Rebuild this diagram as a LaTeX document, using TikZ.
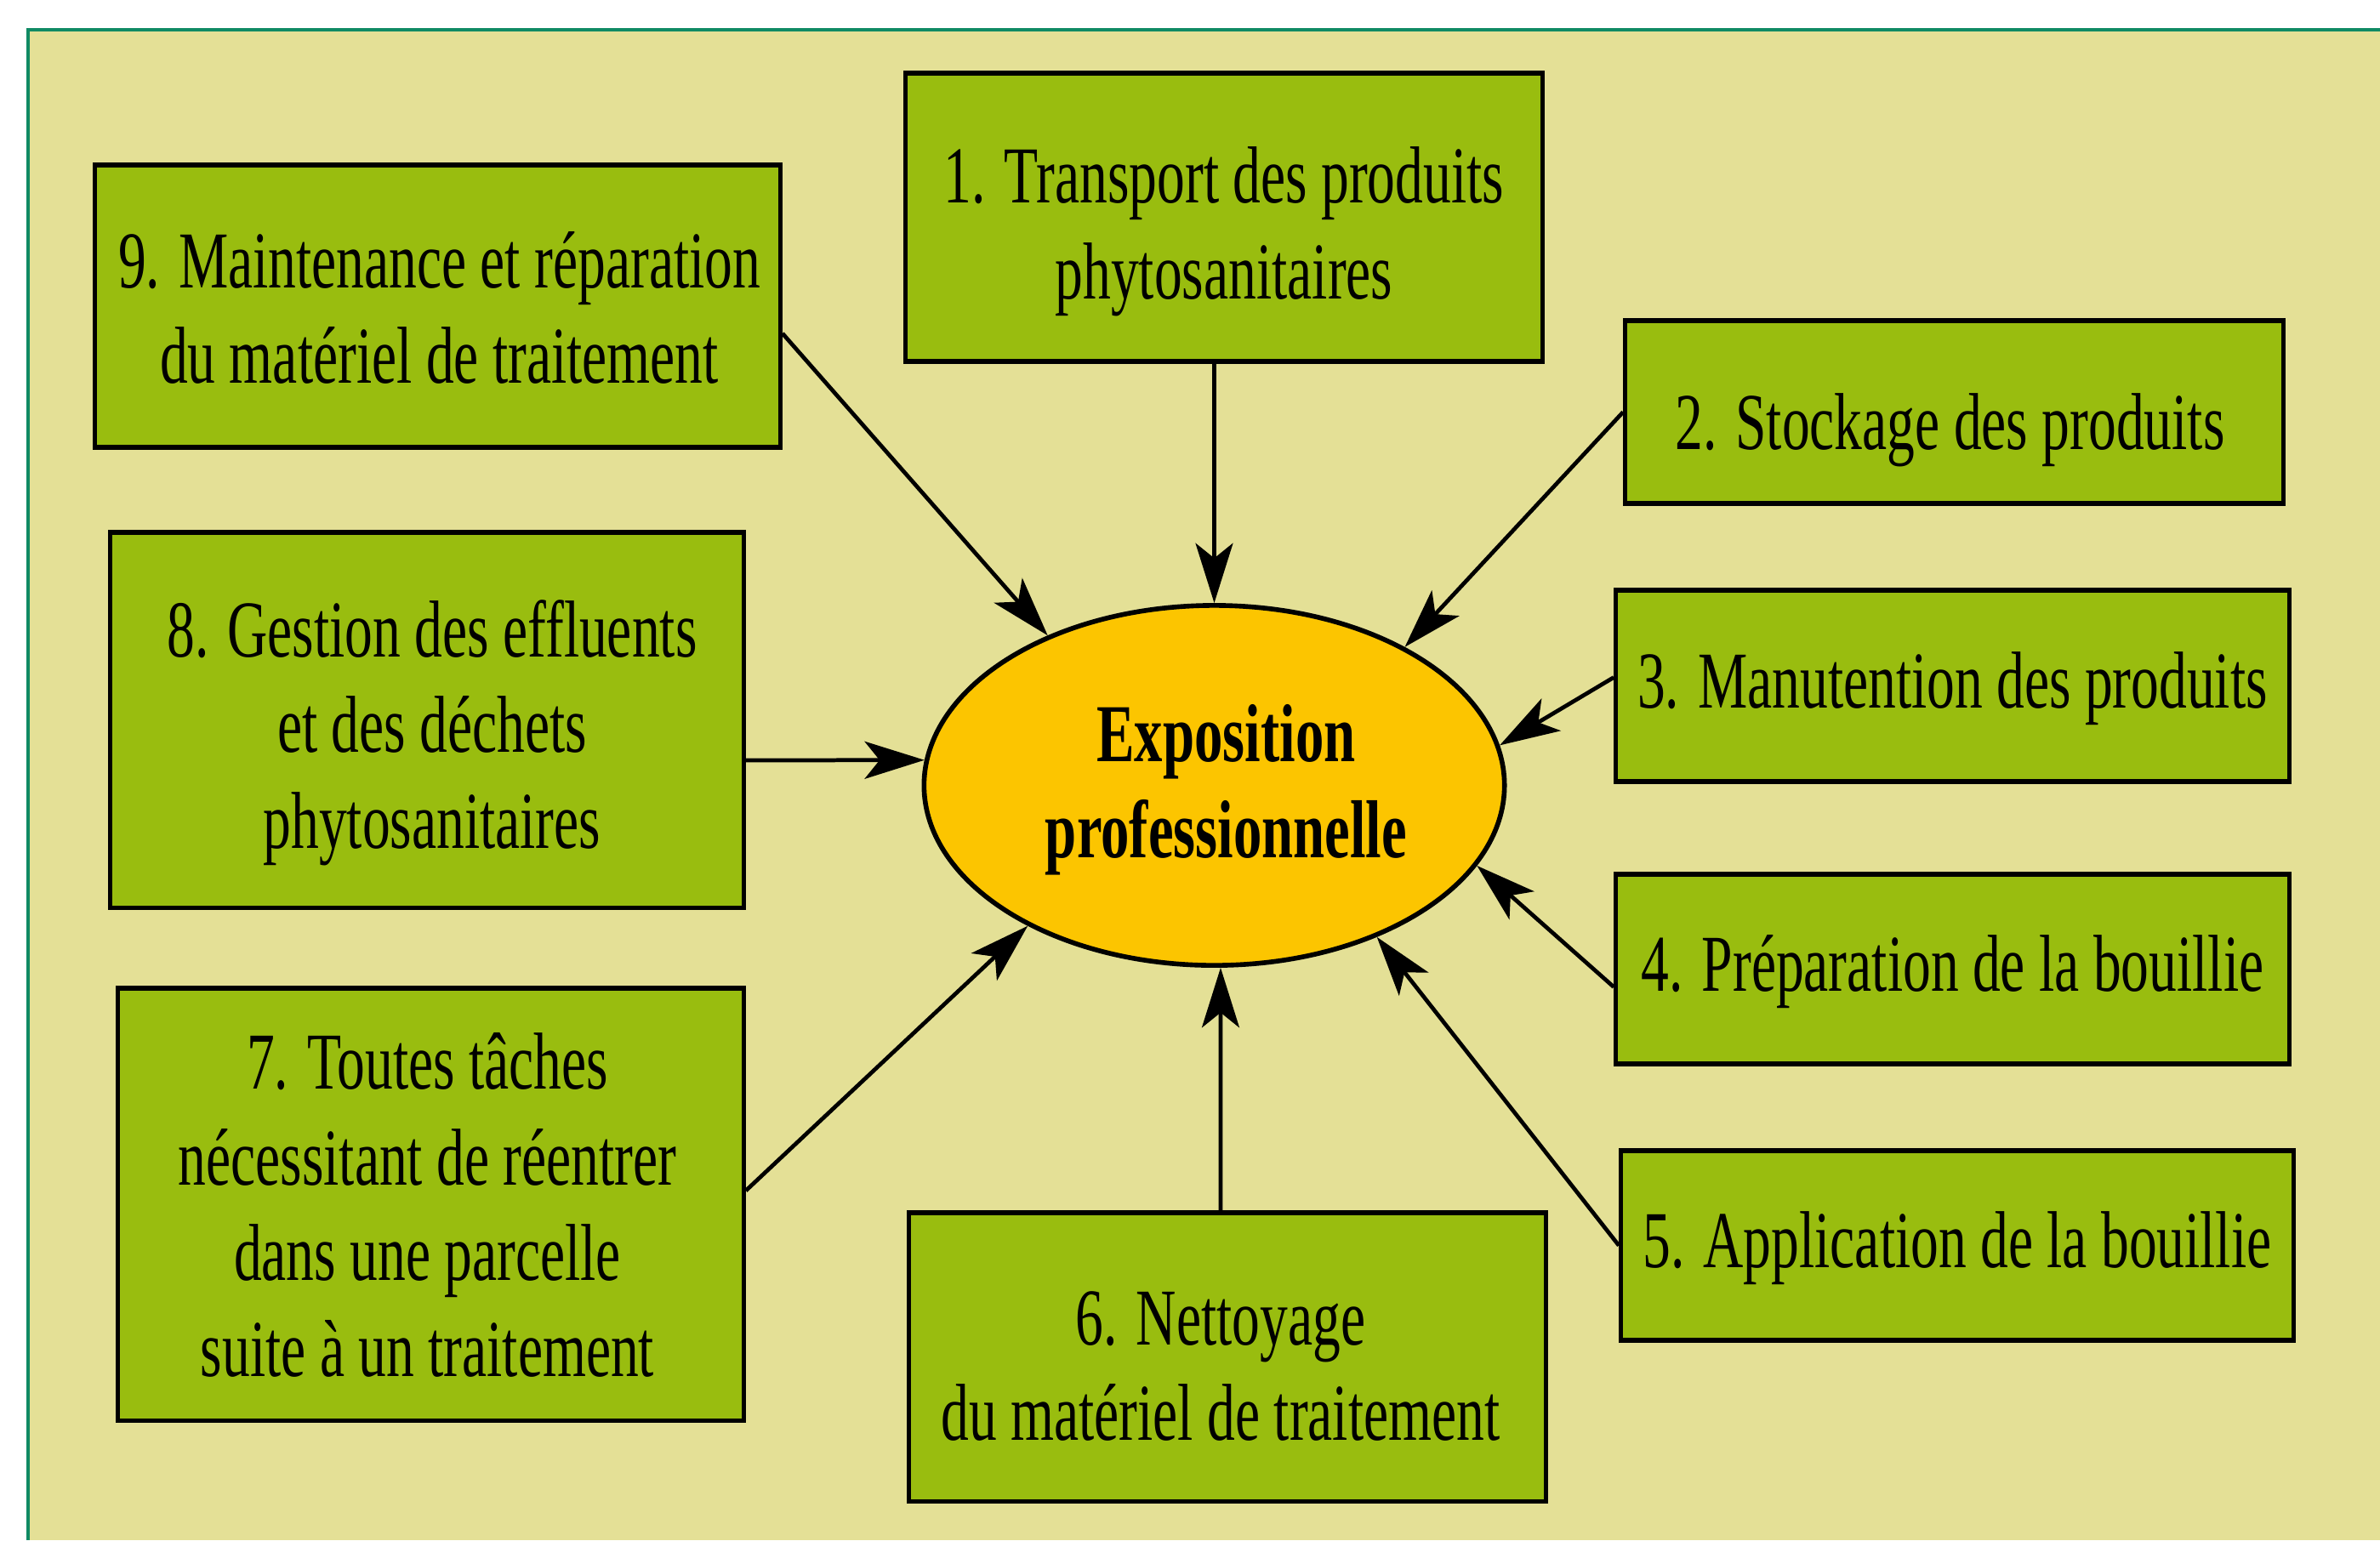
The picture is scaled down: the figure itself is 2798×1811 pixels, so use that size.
\documentclass[tikz,border=0pt]{standalone}
\usepackage{fontspec}
\setmainfont{Liberation Serif}[FakeStretch=0.69]
\usetikzlibrary{arrows.meta,shapes.geometric,calc}
\definecolor{bgyellow}{RGB}{228,224,150}
\definecolor{boxgreen}{RGB}{153,189,15}
\definecolor{ellorange}{RGB}{252,197,0}
\definecolor{frameteal}{RGB}{16,138,100}
\begin{document}
\begin{tikzpicture}[x=0.01cm,y=-0.01cm,
  box/.style={draw=black, line width=1.5pt, fill=boxgreen, rectangle, inner sep=0pt},
  boxtext/.style={inner sep=0pt, align=center, font=\fontsize{27}{32}\selectfont},
  centre/.style={draw=black, line width=1.6pt, fill=ellorange, ellipse, inner sep=0pt},
  centretext/.style={inner sep=0pt, align=center, font=\fontsize{27.5}{32}\selectfont\bfseries},
  arr/.style={draw=black, line width=1.35pt, -{Stealth[length=20pt,width=12.5pt,inset=5pt]}},
]
\useasboundingbox (0,0) rectangle (2798,1811);
\fill[white] (0,0) rectangle (2798,1811);
\fill[bgyellow] (33,35) rectangle (2798,1811);
\draw[frameteal, line width=0.9pt] (33,1811) -- (33,35) -- (2798,35);

\node[centre, minimum width=6.82cm, minimum height=4.23cm] (ell) at (1427.5,923.5) {};
\node[centretext] at ($(ell)+(14,5)$) {Exposition\\professionnelle};

\node[box, minimum width=7.48cm, minimum height=3.39cm] (b1) at (1439,255.5) {};
\node[boxtext] at ($(b1)+(0,17)$) {1. Transport des produits\\phytosanitaires};
\node[box, minimum width=7.73cm, minimum height=2.15cm] (b2) at (2297.5,484.5) {};
\node[boxtext] at ($(b2)+(-5,21)$) {2. Stockage des produits};
\node[box, minimum width=7.91cm, minimum height=2.25cm] (b3) at (2295.5,806.5) {};
\node[boxtext] at ($(b3)+(0,3)$) {3. Manutention des produits};
\node[box, minimum width=7.91cm, minimum height=2.23cm] (b4) at (2295.5,1139.5) {};
\node[boxtext] at ($(b4)+(0,3)$) {4. Préparation de la bouillie};
\node[box, minimum width=7.90cm, minimum height=2.23cm] (b5) at (2301,1464.5) {};
\node[boxtext] at ($(b5)+(0,3)$) {5. Application de la bouillie};
\node[box, minimum width=7.48cm, minimum height=3.39cm] (b6) at (1443,1595.5) {};
\node[boxtext] at ($(b6)+(-8,11)$) {6. Nettoyage\\du matériel de traitement};
\node[box, minimum width=7.35cm, minimum height=5.08cm] (b7) at (506.5,1416) {};
\node[boxtext] at ($(b7)+(-4,1)$) {7. Toutes tâches\\nécessitant de réentrer\\dans une parcelle\\suite à un traitement};
\node[box, minimum width=7.44cm, minimum height=4.41cm] (b8) at (502,846.5) {};
\node[boxtext] at ($(b8)+(6,15)$) {8. Gestion des effluents\\et des déchets\\phytosanitaires};
\node[box, minimum width=8.05cm, minimum height=3.32cm] (b9) at (514.5,360) {};
\node[boxtext] at ($(b9)+(2,2)$) {9. Maintenance et réparation\\du matériel de traitement};

\draw[arr] (ell.north |- b1.south) -- (ell.north);
\draw[arr] (b2.west) -- (ell.36);
\draw[arr] ($(b3.west)+(0,-10)$) -- (ell.8);
\draw[arr] ($(b4.west)+(0,21)$) -- (ell.-17);
\draw[arr] (b5.west) -- (ell.-43);
\draw[arr] ($(b6.north)+(-8,0)$) -- (ell.-88);
\draw[arr] ($(b7.east)+(0,-16)$) -- (ell.-143);
\draw[arr] ($(b8.east)+(0,47.5)$) -- (ell.175);
\draw[arr] ($(b9.east)+(0,32)$) -- (ell.138);
\end{tikzpicture}
\end{document}
